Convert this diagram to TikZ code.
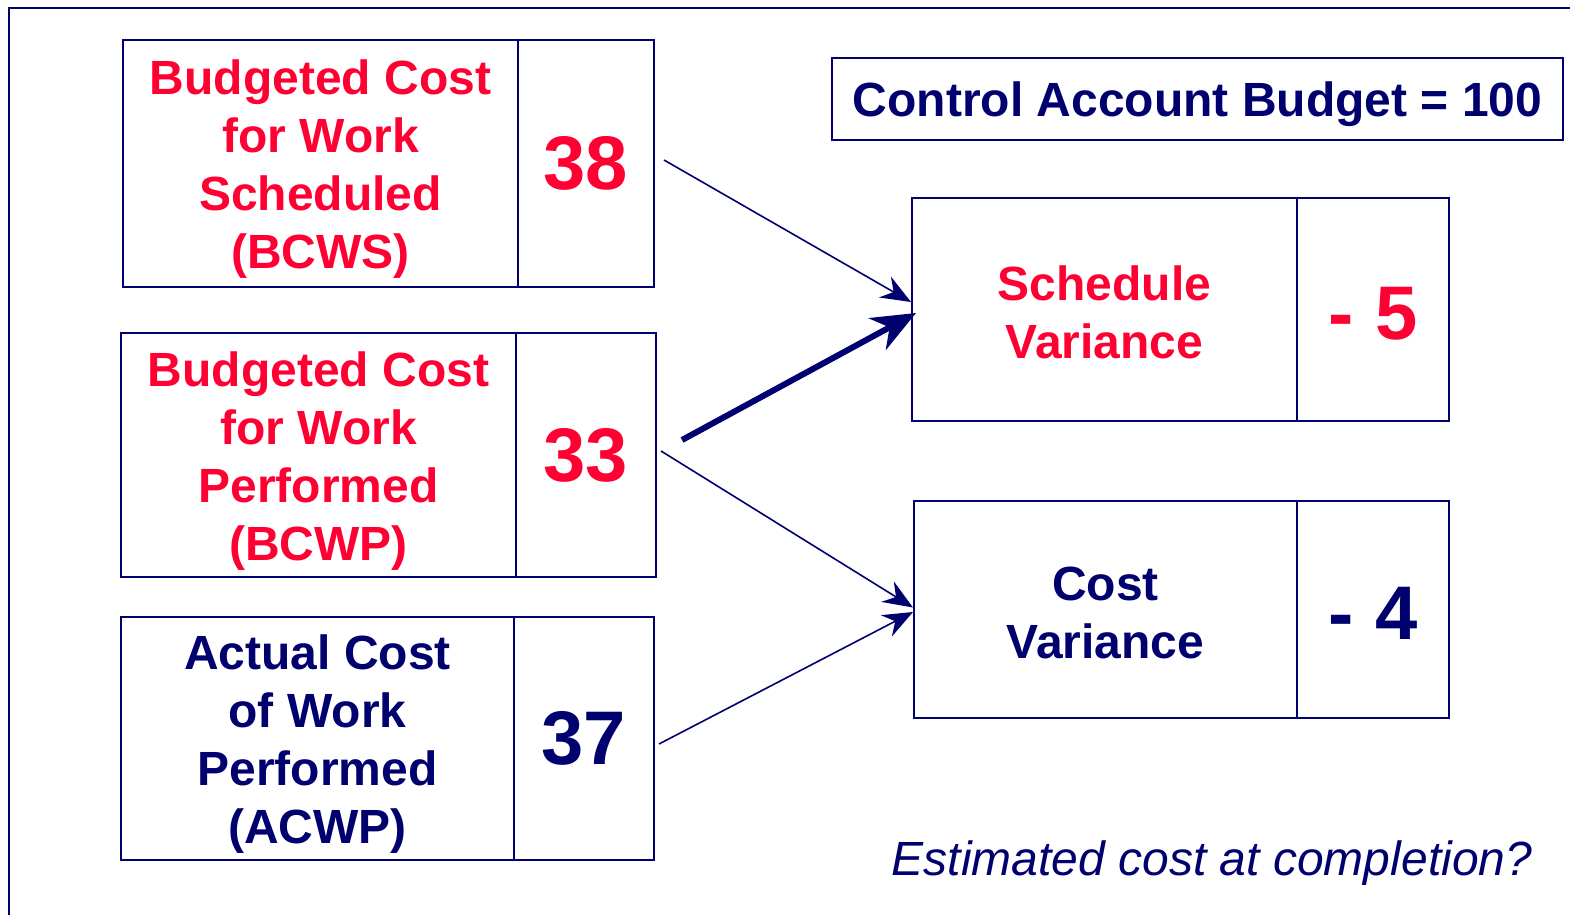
\documentclass[tikz,border=0pt]{standalone}
\usepackage{fontspec}
\setmainfont{Liberation Sans}
\usetikzlibrary{arrows.meta,calc}
\definecolor{navy}{RGB}{0,0,110}
\definecolor{redtxt}{RGB}{255,0,51}
\newcommand{\tstrut}[1]{\rule{0pt}{#1}}
\begin{document}
\begin{tikzpicture}[x=0.5pt,y=-0.5pt,
  box/.style={draw=navy, line width=1pt, inner sep=0pt, align=center,
    font=\bfseries\fontsize{24}{29}\selectfont},
  num/.style={box, font=\bfseries\fontsize{38}{40}\selectfont},
  arr/.style={draw=navy, line width=0.8pt, -{Stealth[length=15pt,width=12pt,inset=5pt]}},
  thickarr/.style={draw=navy, line width=3pt, -{Stealth[length=22pt,width=18pt,inset=7pt]}}]
\useasboundingbox (0,0) rectangle (1570,915);
\draw[navy, line width=1pt] (9,915) -- (9,8) -- (1570,8);

% left boxes
\node[box, text=redtxt, minimum width=197.5pt, minimum height=123.5pt] (bcws) at (320.5,163.5)
  {\tstrut{23pt}Budgeted Cost\\for Work\\Scheduled\\(BCWS)};
\node[num, text=redtxt, minimum width=68pt, minimum height=123.5pt] (bcwsn) at (586,163.5) {38};
\node[box, text=redtxt, minimum width=197.5pt, minimum height=122pt] (bcwp) at (318.5,455)
  {\tstrut{23pt}Budgeted Cost\\for Work\\Performed\\(BCWP)};
\node[num, text=redtxt, minimum width=70pt, minimum height=122pt] (bcwpn) at (586,455) {33};
\node[box, text=navy, minimum width=196.5pt, minimum height=121.5pt] (acwp) at (317.5,738.5)
  {\tstrut{23pt}Actual Cost\\of Work\\Performed\\(ACWP)};
\node[num, text=navy, minimum width=70pt, minimum height=121.5pt] (acwpn) at (584,738.5) {37};

% right boxes
\node[box, text=navy, minimum width=365.5pt, minimum height=41pt] (cab) at (1197.5,99)
  {\tstrut{23pt}Control Account Budget = 100};
\node[box, text=redtxt, minimum width=192.5pt, minimum height=111.5pt] (sv) at (1104.5,309.5)
  {\tstrut{20pt}Schedule\\Variance};
\node[num, text=redtxt, minimum width=76pt, minimum height=111.5pt] (svn) at (1373,309.5) {\tstrut{30pt}- 5};
\node[box, text=navy, minimum width=191.5pt, minimum height=108.5pt] (cv) at (1105.5,609.5)
  {\tstrut{20.5pt}Cost\\Variance};
\node[num, text=navy, minimum width=76pt, minimum height=108.5pt] (cvn) at (1373,609.5) {\tstrut{30pt}- 4};

\node[text=navy, font=\itshape\fontsize{24}{29}\selectfont, anchor=base] (eac) at (1212,875)
  {Estimated cost at completion?};

% connectors
\coordinate (s1) at (664,160);
\coordinate (s2) at (682,440);
\coordinate (s3) at (661,451);
\coordinate (s4) at (659,744);
\draw[arr] (s1) -- ($(sv.west)+(0,-7.5)$);
\draw[thickarr] (s2) -- ($(sv.west)+(5,3.5)$);
\draw[arr] (s3) -- ($(cv.west)+(0,-2)$);
\draw[arr] (s4) -- ($(cv.west)+(0,2.5)$);
\end{tikzpicture}
\end{document}
